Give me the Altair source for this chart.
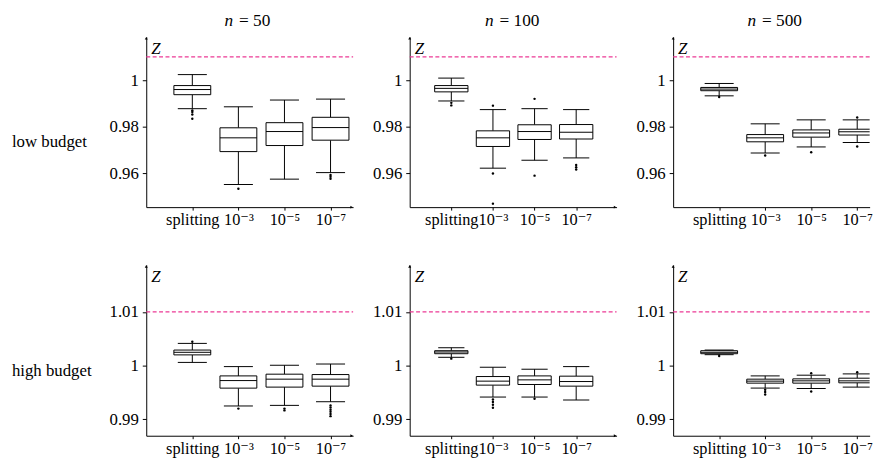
import json
import altair as alt
import pandas as pd

categories = ["splitting", "10⁻³", "10⁻⁵", "10⁻⁷"]
n_values = [50, 100, 500]
budgets = ["low budget", "high budget"]
reference_z = 1.01

# statistics indexed [row: low/high budget][column: n][category]
whisker_low = [
    [[0.9878, 0.9553, 0.9576, 0.9604],
     [0.9911, 0.9623, 0.9657, 0.9667],
     [0.9933, 0.9688, 0.9714, 0.9733]],
    [[1.0006, 0.99249, 0.9926, 0.99328],
     [1.00155, 0.99415, 0.99415, 0.9936],
     [1.00204, 0.99582, 0.99574, 0.9960]],
]
quart1 = [
    [[0.9938, 0.9694, 0.9720, 0.9743],
     [0.9950, 0.9716, 0.9746, 0.9748],
     [0.9955, 0.9736, 0.9756, 0.9765]],
    [[1.0020, 0.99581, 0.9960, 0.99618],
     [1.00222, 0.99637, 0.99649, 0.99618],
     [1.00222, 0.99674, 0.99674, 0.9968]],
]
median = [
    [[0.9960, 0.9753, 0.9780, 0.9797],
     [0.9965, 0.9753, 0.9780, 0.9777],
     [0.9962, 0.9753, 0.9774, 0.9779]],
    [[1.00248, 0.99722, 0.99748, 0.99748],
     [1.00254, 0.99711, 0.99735, 0.99704],
     [1.00248, 0.99711, 0.99717, 0.99717]],
]
quart3 = [
    [[0.9977, 0.9796, 0.9818, 0.9841],
     [0.9977, 0.9783, 0.9809, 0.9810],
     [0.9969, 0.9767, 0.9787, 0.9790]],
    [[1.0029, 0.99809, 0.99841, 0.99834],
     [1.00278, 0.99797, 0.99809, 0.99804],
     [1.00278, 0.99748, 0.99754, 0.99766]],
]
whisker_high = [
    [[1.0024, 0.9886, 0.9915, 0.9919],
     [1.0009, 0.9874, 0.9878, 0.9874],
     [0.9986, 0.9813, 0.9830, 0.9830]],
    [[1.00414, 0.99982, 1.00007, 1.0003],
     [1.00333, 0.9997, 0.99933, 0.99982],
     [1.0029, 0.99809, 0.99822, 0.99846]],
]
outliers = [
    [[[0.9870, 0.9864, 0.9853, 0.9835], [0.9535], [], [0.9594, 0.9586, 0.9578]],
     [[0.9903, 0.9892], [0.9891, 0.9600, 0.9471], [0.9920, 0.9591], [0.9637, 0.9627, 0.9617]],
     [[0.9928], [0.9677], [0.9691], [0.9840, 0.9716]]],
    [[[1.00444], [0.9920], [0.9920, 0.99167], [0.9926, 0.9922, 0.9918, 0.9914, 0.9910, 0.9906]],
     [[1.0013], [0.9937, 0.99323, 0.99273, 0.99217], [0.99384], []],
     [[1.0018], [0.9955, 0.99508, 0.99463], [0.99859, 0.99519], [0.99877]]],
]

y_ticks = [[0.96, 0.98, 1.0], [0.99, 1.0, 1.01]]
y_domain = [[0.9456, 1.0186], [0.98695, 1.01875]]
x_max = [4.49, 4.97, 4.27]   # last panel is cut off at the right edge

FONT = "'Liberation Serif', 'DejaVu Serif', serif"
WIDTHS = [209.5, 209.5, 199]
HEIGHTS = [172.5, 173]
BOX_HALF = 0.4
CAP_HALF = 0.315
PINK = "#ec3a95"

cat_js = json.dumps(categories, ensure_ascii=False)


def panel(r, c):
    W = WIDTHS[c]
    H = HEIGHTS[r]
    df = pd.DataFrame({
        "pos": [1, 2, 3, 4],
        "cat": categories,
        "lo": whisker_low[r][c],
        "q1": quart1[r][c],
        "med": median[r][c],
        "q3": quart3[r][c],
        "hi": whisker_high[r][c],
    })
    out = pd.DataFrame([{"pos": i + 1, "v": v}
                        for i in range(4) for v in outliers[r][c][i]])
    xsc = alt.Scale(domain=[0, x_max[c]], nice=False, zero=False)
    ysc = alt.Scale(domain=y_domain[r], nice=False, zero=False)
    xax = alt.Axis(values=[1, 2, 3, 4], labelExpr=f"{cat_js}[datum.value - 1]",
                   title=None, grid=False, domainColor="black", tickColor="black",
                   tickSize=3, labelPadding=2, labelFont=FONT, labelFontSize=16.5,
                   labelColor="black", domainWidth=1, tickWidth=1, labelFlush=False,
                   labelOverlap=False)
    yax = alt.Axis(values=y_ticks[r], format=".3~g", title=None, grid=False,
                   domainColor="black", tickColor="black", tickSize=4,
                   labelPadding=4, labelFont=FONT, labelFontSize=17,
                   labelColor="black", domainWidth=1, tickWidth=1,
                   labelFlush=False, labelOverlap=False)

    def X(f):
        return alt.X(f, type="quantitative", scale=xsc, axis=xax)

    def Y(f):
        return alt.Y(f, type="quantitative", scale=ysc, axis=yax)

    base = alt.Chart(df).transform_calculate(
        bl=f"datum.pos - {BOX_HALF}", br=f"datum.pos + {BOX_HALF}",
        cl=f"datum.pos - {CAP_HALF}", cr=f"datum.pos + {CAP_HALF}")

    dashed = alt.Chart(pd.DataFrame({"z": [reference_z]})).mark_rule(
        color=PINK, strokeDash=[4, 2.5], strokeWidth=1.2
    ).encode(y=Y("z"), x=alt.value(0), x2=alt.value(W))

    rule = dict(color="black", strokeWidth=1, clip=True)
    wl = base.mark_rule(**rule).encode(x=X("pos"), y=Y("lo"), y2="q1")
    wh = base.mark_rule(**rule).encode(x=X("pos"), y=Y("q3"), y2="hi")
    cl = base.mark_rule(**rule).encode(x=X("cl"), x2="cr", y=Y("lo"))
    ch = base.mark_rule(**rule).encode(x=X("cl"), x2="cr", y=Y("hi"))
    box = base.mark_rect(fill="white", stroke="black", strokeWidth=1, clip=True).encode(
        x=X("bl"), x2="br", y=Y("q1"), y2="q3")
    med = base.mark_rule(**rule).encode(x=X("bl"), x2="br", y=Y("med"))
    pts = alt.Chart(out).mark_circle(size=6, color="black", opacity=1, clip=True).encode(
        x=X("pos"), y=Y("v"))

    one = pd.DataFrame({"k": [0]})
    ztxt = alt.Chart(one).mark_text(
        text="Z", font=FONT, fontSize=17, fontStyle="italic", align="left",
        baseline="alphabetic", color="black"
    ).encode(x=alt.value(5), y=alt.value(17))
    arr_up = alt.Chart(one).mark_point(
        shape="triangle-up", filled=True, color="black", size=9, opacity=1
    ).encode(x=alt.value(0), y=alt.value(1.5))

    layers = [dashed, wl, wh, cl, ch, box, med, pts, ztxt, arr_up]

    if c < 2:
        arr_rt = alt.Chart(one).mark_point(
            shape="triangle-right", filled=True, color="black", size=9, opacity=1
        ).encode(x=alt.value(W - 1.5), y=alt.value(H))
        layers.append(arr_rt)

    if r == 0:
        nr = [88, 85, 84][c]
        hn = alt.Chart(one).mark_text(
            text="n", font=FONT, fontSize=17.5, fontStyle="italic", align="right",
            baseline="alphabetic", color="black"
        ).encode(x=alt.value(nr), y=alt.value(-10.7))
        hv = alt.Chart(one).mark_text(
            text=f"= {n_values[c]}", font=FONT, fontSize=17.5, align="left",
            baseline="alphabetic", color="black"
        ).encode(x=alt.value(nr + 6), y=alt.value(-10.7))
        layers += [hn, hv]
    if c == 0:
        rl = alt.Chart(one).mark_text(
            text=budgets[r], font=FONT, fontSize=17, align="left",
            baseline="middle", color="black"
        ).encode(x=alt.value(-136), y=alt.value(107))
        layers.append(rl)

    return alt.layer(*layers).properties(width=W, height=H)


panels = [panel(r, c) for r in range(2) for c in range(3)]
chart = alt.concat(
    *panels, columns=3, spacing={"row": 58, "column": 56.8}, bounds="flush"
).properties(
    padding={"left": 4, "top": 1.3, "right": 0, "bottom": 0}
).configure_view(stroke=None)

chart.save("out.html", embed_options={"renderer": "svg", "actions": False})
